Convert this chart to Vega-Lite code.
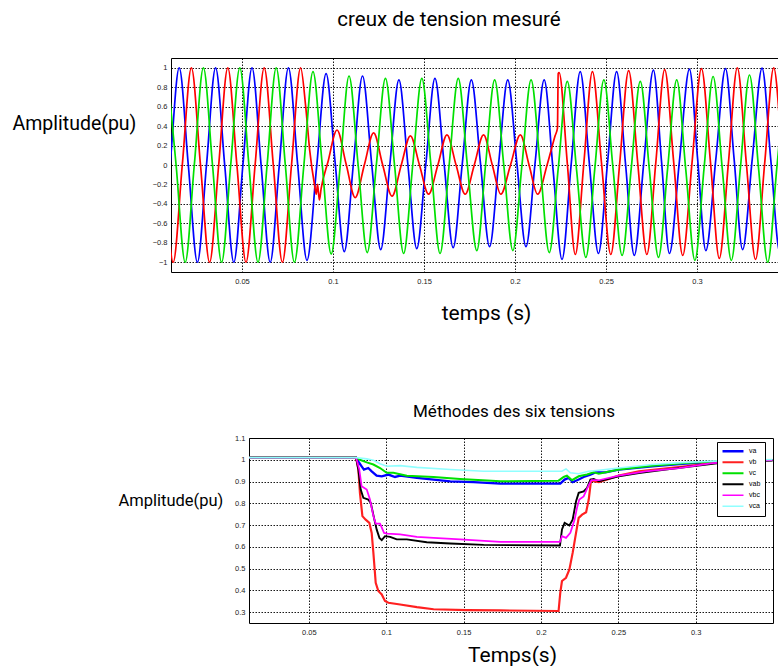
{
  "$schema": "https://vega.github.io/schema/vega-lite/v6.json",
  "background": "white",
  "padding": {"left": 11, "top": 9, "right": 0, "bottom": 0},
  "config": {
    "font": "Liberation Sans",
    "view": {"stroke": "black", "strokeWidth": 1},
    "axis": {"grid": true, "gridColor": "black", "gridDash": [1.5, 1.5], "gridOpacity": 0.9, "domain": false, "ticks": false, "labelFont": "Liberation Sans", "labelFontSize": 7.5, "labelColor": "#222", "labelPadding": 4, "format": "~g", "titleFont": "Roboto", "titleFontWeight": "normal", "titleColor": "black"},
    "title": {"font": "Roboto", "fontWeight": "normal", "color": "black"}
  },
  "resolve": {"scale": {"color": "independent", "strokeWidth": "independent"}, "legend": {"color": "independent", "strokeWidth": "independent"}},
  "datasets": {
    "sig": [
      {"s":"va","t":0.0055,"v":-1},{"s":"va","t":0.0105,"v":0},{"s":"va","t":0.0155,"v":1},{"s":"va","t":0.0205,"v":0},{"s":"va","t":0.0255,"v":-1},{"s":"va","t":0.0305,"v":0},{"s":"va","t":0.0355,"v":1},{"s":"va","t":0.0405,"v":0},{"s":"va","t":0.0455,"v":-1},{"s":"va","t":0.0505,"v":0},{"s":"va","t":0.0555,"v":1},{"s":"va","t":0.0605,"v":0},{"s":"va","t":0.0655,"v":-1},{"s":"va","t":0.0705,"v":0},{"s":"va","t":0.0755,"v":1},{"s":"va","t":0.0806,"v":0},{"s":"va","t":0.0857,"v":-0.98},{"s":"va","t":0.091,"v":-0.02},{"s":"va","t":0.0962,"v":0.94},{"s":"va","t":0.1012,"v":0.02},{"s":"va","t":0.1062,"v":-0.89},{"s":"va","t":0.1112,"v":0.01},{"s":"va","t":0.1162,"v":0.915},{"s":"va","t":0.1212,"v":0.02},{"s":"va","t":0.1262,"v":-0.87},{"s":"va","t":0.1312,"v":0},{"s":"va","t":0.1362,"v":0.875},{"s":"va","t":0.1411,"v":0.01},{"s":"va","t":0.146,"v":-0.86},{"s":"va","t":0.151,"v":0.01},{"s":"va","t":0.156,"v":0.89},{"s":"va","t":0.161,"v":0.02},{"s":"va","t":0.166,"v":-0.85},{"s":"va","t":0.171,"v":0.01},{"s":"va","t":0.176,"v":0.875},{"s":"va","t":0.181,"v":0.02},{"s":"va","t":0.186,"v":-0.84},{"s":"va","t":0.191,"v":0.02},{"s":"va","t":0.196,"v":0.875},{"s":"va","t":0.201,"v":0.02},{"s":"va","t":0.206,"v":-0.84},{"s":"va","t":0.211,"v":0.02},{"s":"va","t":0.216,"v":0.875},{"s":"va","t":0.2209,"v":-0.05},{"s":"va","t":0.2258,"v":-0.97},{"s":"va","t":0.2308,"v":0},{"s":"va","t":0.2358,"v":0.96},{"s":"va","t":0.2408,"v":0.02},{"s":"va","t":0.2458,"v":-0.91},{"s":"va","t":0.2508,"v":0.02},{"s":"va","t":0.2558,"v":0.96},{"s":"va","t":0.2607,"v":0.01},{"s":"va","t":0.2655,"v":-0.93},{"s":"va","t":0.2707,"v":0.02},{"s":"va","t":0.276,"v":0.975},{"s":"va","t":0.2805,"v":0.03},{"s":"va","t":0.2848,"v":-0.91},{"s":"va","t":0.2903,"v":0.04},{"s":"va","t":0.2958,"v":0.985},{"s":"va","t":0.3003,"v":0.06},{"s":"va","t":0.3048,"v":-0.88},{"s":"va","t":0.3103,"v":0.06},{"s":"va","t":0.3156,"v":0.99},{"s":"va","t":0.3203,"v":0.07},{"s":"va","t":0.325,"v":-0.87},{"s":"va","t":0.3303,"v":0.06},{"s":"va","t":0.3357,"v":0.995},{"s":"va","t":0.3405,"v":0.05},{"s":"va","t":0.3455,"v":-0.9},{"s":"va","t":0.3505,"v":0.05},{"s":"va","t":0.3555,"v":1},
      {"s":"vb","t":0.0022,"v":1},{"s":"vb","t":0.0072,"v":0},{"s":"vb","t":0.0122,"v":-1},{"s":"vb","t":0.0172,"v":0},{"s":"vb","t":0.0222,"v":1},{"s":"vb","t":0.0272,"v":0},{"s":"vb","t":0.0322,"v":-1},{"s":"vb","t":0.0372,"v":0},{"s":"vb","t":0.0422,"v":1},{"s":"vb","t":0.0472,"v":0},{"s":"vb","t":0.0522,"v":-1},{"s":"vb","t":0.0572,"v":0},{"s":"vb","t":0.0622,"v":1},{"s":"vb","t":0.0672,"v":0},{"s":"vb","t":0.0722,"v":-1},{"s":"vb","t":0.0772,"v":0},{"s":"vb","t":0.0822,"v":1},{"s":"vb","t":0.085,"v":0.6},{"s":"vb","t":0.0872,"v":0.15},{"s":"vb","t":0.0898,"v":-0.2},{"s":"vb","t":0.0908,"v":-0.3},{"s":"vb","t":0.0915,"v":-0.2},{"s":"vb","t":0.0925,"v":-0.36},{"s":"vb","t":0.0935,"v":-0.24},{"s":"vb","t":0.0972,"v":0.03},{"s":"vb","t":0.1022,"v":0.36},{"s":"vb","t":0.1072,"v":0.01},{"s":"vb","t":0.1122,"v":-0.335},{"s":"vb","t":0.1172,"v":0},{"s":"vb","t":0.1223,"v":0.33},{"s":"vb","t":0.1273,"v":0},{"s":"vb","t":0.1324,"v":-0.32},{"s":"vb","t":0.1375,"v":0},{"s":"vb","t":0.1425,"v":0.3},{"s":"vb","t":0.1475,"v":0},{"s":"vb","t":0.1525,"v":-0.3},{"s":"vb","t":0.1576,"v":0},{"s":"vb","t":0.1626,"v":0.31},{"s":"vb","t":0.1676,"v":0},{"s":"vb","t":0.1726,"v":-0.3},{"s":"vb","t":0.1776,"v":0},{"s":"vb","t":0.1827,"v":0.31},{"s":"vb","t":0.1875,"v":0},{"s":"vb","t":0.1922,"v":-0.3},{"s":"vb","t":0.1975,"v":0},{"s":"vb","t":0.2029,"v":0.31},{"s":"vb","t":0.2077,"v":0},{"s":"vb","t":0.2124,"v":-0.3},{"s":"vb","t":0.2176,"v":0},{"s":"vb","t":0.222,"v":0.3},{"s":"vb","t":0.2233,"v":0.38},{"s":"vb","t":0.2237,"v":0.94},{"s":"vb","t":0.2242,"v":0.95},{"s":"vb","t":0.2287,"v":0.02},{"s":"vb","t":0.2331,"v":-0.92},{"s":"vb","t":0.2378,"v":0.02},{"s":"vb","t":0.2425,"v":0.96},{"s":"vb","t":0.2475,"v":0.02},{"s":"vb","t":0.2526,"v":-0.92},{"s":"vb","t":0.2575,"v":0.02},{"s":"vb","t":0.2624,"v":0.97},{"s":"vb","t":0.2674,"v":0.02},{"s":"vb","t":0.2724,"v":-0.92},{"s":"vb","t":0.2773,"v":0.02},{"s":"vb","t":0.2822,"v":0.98},{"s":"vb","t":0.2872,"v":0.02},{"s":"vb","t":0.2921,"v":-0.93},{"s":"vb","t":0.2972,"v":0.02},{"s":"vb","t":0.3024,"v":0.99},{"s":"vb","t":0.3074,"v":0.02},{"s":"vb","t":0.3122,"v":-0.96},{"s":"vb","t":0.3172,"v":0.02},{"s":"vb","t":0.3221,"v":1},{"s":"vb","t":0.3271,"v":0.01},{"s":"vb","t":0.3321,"v":-0.97},{"s":"vb","t":0.3371,"v":0.01},{"s":"vb","t":0.3421,"v":1},{"s":"vb","t":0.3471,"v":0.01},{"s":"vb","t":0.3521,"v":-0.98},
      {"s":"vc","t":0.0088,"v":1},{"s":"vc","t":0.0138,"v":0},{"s":"vc","t":0.0188,"v":-1},{"s":"vc","t":0.0238,"v":0},{"s":"vc","t":0.0288,"v":1},{"s":"vc","t":0.0338,"v":0},{"s":"vc","t":0.0388,"v":-1},{"s":"vc","t":0.0438,"v":0},{"s":"vc","t":0.0488,"v":1},{"s":"vc","t":0.0538,"v":0},{"s":"vc","t":0.0588,"v":-1},{"s":"vc","t":0.0638,"v":0},{"s":"vc","t":0.0688,"v":1},{"s":"vc","t":0.0738,"v":0},{"s":"vc","t":0.0788,"v":-1},{"s":"vc","t":0.084,"v":0},{"s":"vc","t":0.089,"v":0.96},{"s":"vc","t":0.094,"v":0.02},{"s":"vc","t":0.099,"v":-0.915},{"s":"vc","t":0.104,"v":0},{"s":"vc","t":0.1088,"v":0.915},{"s":"vc","t":0.1138,"v":0},{"s":"vc","t":0.1188,"v":-0.9},{"s":"vc","t":0.1238,"v":0},{"s":"vc","t":0.1288,"v":0.89},{"s":"vc","t":0.1338,"v":0},{"s":"vc","t":0.1388,"v":-0.91},{"s":"vc","t":0.1438,"v":0},{"s":"vc","t":0.1488,"v":0.89},{"s":"vc","t":0.1538,"v":0},{"s":"vc","t":0.1588,"v":-0.91},{"s":"vc","t":0.1638,"v":0},{"s":"vc","t":0.1688,"v":0.89},{"s":"vc","t":0.1738,"v":0},{"s":"vc","t":0.179,"v":-0.88},{"s":"vc","t":0.1838,"v":0},{"s":"vc","t":0.1888,"v":0.875},{"s":"vc","t":0.1938,"v":0},{"s":"vc","t":0.1988,"v":-0.88},{"s":"vc","t":0.2038,"v":0},{"s":"vc","t":0.2088,"v":0.875},{"s":"vc","t":0.2138,"v":0},{"s":"vc","t":0.2188,"v":-0.9},{"s":"vc","t":0.2238,"v":-0.02},{"s":"vc","t":0.2287,"v":0.86},{"s":"vc","t":0.2338,"v":-0.05},{"s":"vc","t":0.2389,"v":-0.95},{"s":"vc","t":0.2438,"v":-0.04},{"s":"vc","t":0.2488,"v":0.875},{"s":"vc","t":0.2538,"v":-0.03},{"s":"vc","t":0.2588,"v":-0.93},{"s":"vc","t":0.2638,"v":-0.04},{"s":"vc","t":0.2688,"v":0.86},{"s":"vc","t":0.2738,"v":-0.05},{"s":"vc","t":0.2788,"v":-0.95},{"s":"vc","t":0.2838,"v":-0.04},{"s":"vc","t":0.2888,"v":0.875},{"s":"vc","t":0.2938,"v":-0.05},{"s":"vc","t":0.2988,"v":-0.98},{"s":"vc","t":0.3038,"v":-0.04},{"s":"vc","t":0.3088,"v":0.91},{"s":"vc","t":0.3138,"v":-0.03},{"s":"vc","t":0.3188,"v":-0.98},{"s":"vc","t":0.3238,"v":-0.03},{"s":"vc","t":0.3288,"v":0.925},{"s":"vc","t":0.3338,"v":-0.04},{"s":"vc","t":0.3388,"v":-1},{"s":"vc","t":0.3438,"v":-0.03},{"s":"vc","t":0.3488,"v":0.95}
    ],
    "rms": [
      {"s":"va","t":0.01,"v":1.01},{"s":"va","t":0.0805,"v":1.01},{"s":"va","t":0.0826,"v":0.985},{"s":"va","t":0.0841,"v":0.97},{"s":"va","t":0.0856,"v":0.955},{"s":"va","t":0.0884,"v":0.962},{"s":"va","t":0.0906,"v":0.947},{"s":"va","t":0.0938,"v":0.927},{"s":"va","t":0.0971,"v":0.924},{"s":"va","t":0.1014,"v":0.932},{"s":"va","t":0.1057,"v":0.921},{"s":"va","t":0.109,"v":0.927},{"s":"va","t":0.1198,"v":0.917},{"s":"va","t":0.1306,"v":0.909},{"s":"va","t":0.1414,"v":0.901},{"s":"va","t":0.1565,"v":0.897},{"s":"va","t":0.1738,"v":0.89},{"s":"va","t":0.2125,"v":0.89},{"s":"va","t":0.2153,"v":0.909},{"s":"va","t":0.2179,"v":0.917},{"s":"va","t":0.2205,"v":0.897},{"s":"va","t":0.2244,"v":0.909},{"s":"va","t":0.2276,"v":0.921},{"s":"va","t":0.232,"v":0.932},{"s":"va","t":0.2352,"v":0.942},{"s":"va","t":0.2417,"v":0.942},{"s":"va","t":0.2503,"v":0.955},{"s":"va","t":0.2719,"v":0.97},{"s":"va","t":0.2935,"v":0.982},{"s":"va","t":0.3151,"v":0.99},{"s":"va","t":0.3497,"v":0.998},
      {"s":"vb","t":0.01,"v":1.01},{"s":"vb","t":0.0805,"v":1.01},{"s":"vb","t":0.082,"v":0.955},{"s":"vb","t":0.083,"v":0.848},{"s":"vb","t":0.0846,"v":0.741},{"s":"vb","t":0.0867,"v":0.725},{"s":"vb","t":0.0891,"v":0.71},{"s":"vb","t":0.0906,"v":0.664},{"s":"vb","t":0.0917,"v":0.572},{"s":"vb","t":0.0932,"v":0.435},{"s":"vb","t":0.0949,"v":0.397},{"s":"vb","t":0.0971,"v":0.381},{"s":"vb","t":0.0992,"v":0.351},{"s":"vb","t":0.1014,"v":0.343},{"s":"vb","t":0.109,"v":0.335},{"s":"vb","t":0.1198,"v":0.323},{"s":"vb","t":0.1306,"v":0.313},{"s":"vb","t":0.1522,"v":0.309},{"s":"vb","t":0.1738,"v":0.308},{"s":"vb","t":0.2114,"v":0.305},{"s":"vb","t":0.2125,"v":0.389},{"s":"vb","t":0.2136,"v":0.443},{"s":"vb","t":0.2162,"v":0.458},{"s":"vb","t":0.2184,"v":0.496},{"s":"vb","t":0.2205,"v":0.572},{"s":"vb","t":0.2227,"v":0.664},{"s":"vb","t":0.2244,"v":0.733},{"s":"vb","t":0.2266,"v":0.748},{"s":"vb","t":0.2292,"v":0.759},{"s":"vb","t":0.2309,"v":0.817},{"s":"vb","t":0.2324,"v":0.906},{"s":"vb","t":0.2341,"v":0.901},{"s":"vb","t":0.2374,"v":0.897},{"s":"vb","t":0.2438,"v":0.912},{"s":"vb","t":0.2503,"v":0.927},{"s":"vb","t":0.2633,"v":0.947},{"s":"vb","t":0.2784,"v":0.958},{"s":"vb","t":0.2935,"v":0.97},{"s":"vb","t":0.3108,"v":0.985},{"s":"vb","t":0.3324,"v":0.996},{"s":"vb","t":0.3497,"v":0.998},
      {"s":"vc","t":0.01,"v":1.01},{"s":"vc","t":0.0805,"v":1.01},{"s":"vc","t":0.083,"v":1},{"s":"vc","t":0.0874,"v":0.988},{"s":"vc","t":0.0917,"v":0.978},{"s":"vc","t":0.096,"v":0.962},{"s":"vc","t":0.1003,"v":0.94},{"s":"vc","t":0.1046,"v":0.94},{"s":"vc","t":0.1133,"v":0.927},{"s":"vc","t":0.1306,"v":0.921},{"s":"vc","t":0.1478,"v":0.912},{"s":"vc","t":0.1738,"v":0.901},{"s":"vc","t":0.2114,"v":0.904},{"s":"vc","t":0.2147,"v":0.921},{"s":"vc","t":0.2168,"v":0.927},{"s":"vc","t":0.2201,"v":0.906},{"s":"vc","t":0.2244,"v":0.924},{"s":"vc","t":0.2298,"v":0.932},{"s":"vc","t":0.2341,"v":0.942},{"s":"vc","t":0.2374,"v":0.936},{"s":"vc","t":0.2503,"v":0.955},{"s":"vc","t":0.2719,"v":0.973},{"s":"vc","t":0.2935,"v":0.985},{"s":"vc","t":0.3151,"v":0.993},{"s":"vc","t":0.3497,"v":0.998},
      {"s":"vab","t":0.01,"v":1.01},{"s":"vab","t":0.0805,"v":1.01},{"s":"vab","t":0.082,"v":0.955},{"s":"vab","t":0.0835,"v":0.863},{"s":"vab","t":0.0852,"v":0.825},{"s":"vab","t":0.0884,"v":0.817},{"s":"vab","t":0.09,"v":0.802},{"s":"vab","t":0.0921,"v":0.733},{"s":"vab","t":0.0938,"v":0.68},{"s":"vab","t":0.0956,"v":0.641},{"s":"vab","t":0.0971,"v":0.631},{"s":"vab","t":0.0992,"v":0.649},{"s":"vab","t":0.1025,"v":0.646},{"s":"vab","t":0.1068,"v":0.634},{"s":"vab","t":0.1133,"v":0.634},{"s":"vab","t":0.1262,"v":0.621},{"s":"vab","t":0.1414,"v":0.615},{"s":"vab","t":0.163,"v":0.609},{"s":"vab","t":0.2123,"v":0.606},{"s":"vab","t":0.2136,"v":0.68},{"s":"vab","t":0.2153,"v":0.71},{"s":"vab","t":0.2184,"v":0.698},{"s":"vab","t":0.2205,"v":0.725},{"s":"vab","t":0.2227,"v":0.809},{"s":"vab","t":0.2244,"v":0.848},{"s":"vab","t":0.2276,"v":0.855},{"s":"vab","t":0.2298,"v":0.871},{"s":"vab","t":0.232,"v":0.909},{"s":"vab","t":0.2341,"v":0.912},{"s":"vab","t":0.2374,"v":0.901},{"s":"vab","t":0.2503,"v":0.924},{"s":"vab","t":0.2633,"v":0.939},{"s":"vab","t":0.2806,"v":0.955},{"s":"vab","t":0.2978,"v":0.97},{"s":"vab","t":0.3151,"v":0.985},{"s":"vab","t":0.3497,"v":0.998},
      {"s":"vbc","t":0.01,"v":1.01},{"s":"vbc","t":0.0805,"v":1.01},{"s":"vbc","t":0.0826,"v":0.955},{"s":"vbc","t":0.0841,"v":0.878},{"s":"vbc","t":0.0856,"v":0.871},{"s":"vbc","t":0.0874,"v":0.863},{"s":"vbc","t":0.0895,"v":0.817},{"s":"vbc","t":0.0917,"v":0.741},{"s":"vbc","t":0.0932,"v":0.707},{"s":"vbc","t":0.096,"v":0.707},{"s":"vbc","t":0.0986,"v":0.664},{"s":"vbc","t":0.1008,"v":0.661},{"s":"vbc","t":0.109,"v":0.657},{"s":"vbc","t":0.1198,"v":0.646},{"s":"vbc","t":0.1306,"v":0.641},{"s":"vbc","t":0.1478,"v":0.634},{"s":"vbc","t":0.1738,"v":0.623},{"s":"vbc","t":0.2123,"v":0.623},{"s":"vbc","t":0.2136,"v":0.649},{"s":"vbc","t":0.2162,"v":0.641},{"s":"vbc","t":0.219,"v":0.664},{"s":"vbc","t":0.2218,"v":0.725},{"s":"vbc","t":0.2233,"v":0.779},{"s":"vbc","t":0.2248,"v":0.817},{"s":"vbc","t":0.2276,"v":0.832},{"s":"vbc","t":0.2305,"v":0.878},{"s":"vbc","t":0.2326,"v":0.906},{"s":"vbc","t":0.2374,"v":0.906},{"s":"vbc","t":0.2503,"v":0.927},{"s":"vbc","t":0.2676,"v":0.947},{"s":"vbc","t":0.2892,"v":0.962},{"s":"vbc","t":0.3108,"v":0.985},{"s":"vbc","t":0.3497,"v":0.998},
      {"s":"vca","t":0.01,"v":1.01},{"s":"vca","t":0.0805,"v":1.01},{"s":"vca","t":0.0874,"v":1.004},{"s":"vca","t":0.0917,"v":0.998},{"s":"vca","t":0.096,"v":0.982},{"s":"vca","t":0.1003,"v":0.97},{"s":"vca","t":0.109,"v":0.973},{"s":"vca","t":0.1198,"v":0.965},{"s":"vca","t":0.1414,"v":0.955},{"s":"vca","t":0.163,"v":0.947},{"s":"vca","t":0.2136,"v":0.947},{"s":"vca","t":0.2162,"v":0.958},{"s":"vca","t":0.219,"v":0.94},{"s":"vca","t":0.2244,"v":0.936},{"s":"vca","t":0.2309,"v":0.947},{"s":"vca","t":0.2374,"v":0.952},{"s":"vca","t":0.2503,"v":0.962},{"s":"vca","t":0.2719,"v":0.978},{"s":"vca","t":0.2935,"v":0.988},{"s":"vca","t":0.3151,"v":0.995},{"s":"vca","t":0.3497,"v":1.001}
    ]
  },
  "concat": [
    {
      "width": 608,
      "height": 214,
      "title": {"text": "creux de tension mesuré", "fontSize": 20.5, "offset": 28, "dx": -26},
      "data": {"name": "sig"},
      "mark": {"type": "line", "interpolate": "monotone", "clip": true, "strokeWidth": 1.7},
      "encoding": {
        "x": {"field": "t", "type": "quantitative", "scale": {"domain": [0.011, 0.345], "nice": false, "zero": false},
              "axis": {"values": [0.05, 0.1, 0.15, 0.2, 0.25, 0.3], "title": "temps (s)", "titleFontSize": 21, "titleX": 315, "titleY": 41, "titleAlign": "center", "titleBaseline": "middle", "labelPadding": 5}},
        "y": {"field": "v", "type": "quantitative", "scale": {"domain": [-1.1, 1.1], "nice": false, "zero": false},
              "axis": {"values": [-1, -0.8, -0.6, -0.4, -0.2, 0, 0.2, 0.4, 0.6, 0.8, 1], "title": "Amplitude(pu)", "titleFontSize": 19.5, "titleAngle": 0, "titleAlign": "left", "titleBaseline": "middle", "titleX": -159, "titleY": 65}},
        "color": {"field": "s", "type": "nominal", "scale": {"domain": ["va", "vb", "vc"], "range": ["#0000ff", "#ff0000", "#00e000"]}, "legend": null}
      }
    },
    {
      "spacing": 0,
      "bounds": "flush",
      "hconcat": [
        {
          "width": 78,
          "height": 10,
          "view": {"stroke": null},
          "data": {"values": []},
          "mark": "point"
        },
        {
          "width": 524,
          "height": 185,
          "title": {"text": "Méthodes des six tensions", "fontSize": 17, "offset": 13, "dx": 3},
          "data": {"name": "rms"},
          "mark": {"type": "line", "clip": true},
          "encoding": {
            "x": {"field": "t", "type": "quantitative", "scale": {"domain": [0.0113, 0.35], "nice": false, "zero": false},
                  "axis": {"values": [0.05, 0.1, 0.15, 0.2, 0.25, 0.3], "title": "Temps(s)", "titleFontSize": 21, "titleX": 263, "titleY": 32, "titleAlign": "center", "titleBaseline": "middle", "labelPadding": 5}},
            "y": {"field": "v", "type": "quantitative", "scale": {"domain": [0.25, 1.1], "nice": false, "zero": false},
                  "axis": {"values": [0.3, 0.4, 0.5, 0.6, 0.7, 0.8, 0.9, 1, 1.1], "title": "Amplitude(pu)", "titleFontSize": 16.5, "titleAngle": 0, "titleAlign": "left", "titleBaseline": "middle", "titleX": -131, "titleY": 62}},
            "color": {"field": "s", "type": "nominal", "sort": null,
                      "scale": {"domain": ["va", "vb", "vc", "vab", "vbc", "vca"], "range": ["#0000ff", "#ff2020", "#00e000", "#000000", "#ff00ff", "#90ffff"]},
                      "legend": {"title": null, "orient": "none", "legendX": 546, "legendY": 4, "fillColor": "white", "strokeColor": "black", "padding": 4, "symbolType": "stroke", "symbolSize": 440, "labelFontSize": 7, "labelFont": "Liberation Sans", "clipHeight": 10.5, "rowPadding": 0, "labelOffset": 4}},
            "strokeWidth": {"field": "s", "type": "nominal", "sort": null,
                      "scale": {"domain": ["va", "vb", "vc", "vab", "vbc", "vca"], "range": [2.3, 1.6, 2.3, 2.3, 2.3, 1.2]},
                      "legend": {"title": null, "orient": "none", "legendX": 546, "legendY": 4, "fillColor": "white", "strokeColor": "black", "padding": 4, "symbolType": "stroke", "symbolSize": 440, "labelFontSize": 7, "labelFont": "Liberation Sans", "clipHeight": 10.5, "rowPadding": 0, "labelOffset": 4}}
          }
        }
      ]
    }
  ],
  "columns": 1,
  "align": "none",
  "spacing": 78
}
